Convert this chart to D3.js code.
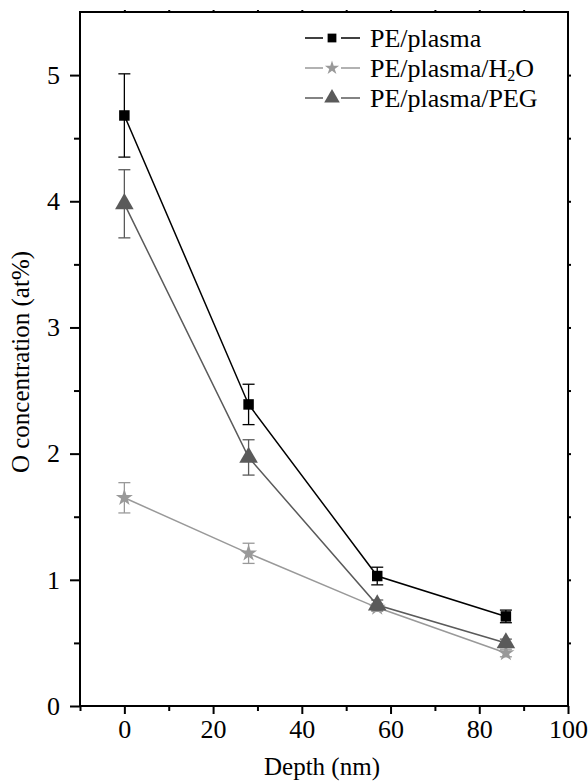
<!DOCTYPE html>
<html>
<head>
<meta charset="utf-8">
<script src="https://cdn.jsdelivr.net/npm/d3@7"></script>
<style>
  body { margin: 0; background: #fff; }
  svg text { font-family: "Liberation Serif", "Times New Roman", serif; }
</style>
</head>
<body>
<svg id="chart" width="588" height="782"></svg>
<script>
// data
var depth = [0, 28, 57, 86];
var seriesNames = ['PE/plasma', 'PE/plasma/H2O', 'PE/plasma/PEG'];
var plasmaVals = [4.68, 2.39, 1.03, 0.71];
var plasmaErr  = [0.33, 0.16, 0.07, 0.05];
var h2oVals    = [1.65, 1.21, 0.78, 0.42];
var h2oErr     = [0.12, 0.08, 0.03, 0.03];
var pegVals    = [3.98, 1.97, 0.80, 0.50];
var pegErr     = [0.27, 0.14, 0.04, 0.03];
var xTicks = [0, 20, 40, 60, 80, 100];
var yTicks = [0, 1, 2, 3, 4, 5];

var series = [
  {name: seriesNames[0], vals: plasmaVals, err: plasmaErr, col: '#000000', sym: d3.symbolSquare, size: 110},
  {name: seriesNames[1], vals: h2oVals, err: h2oErr, col: '#999999', sym: d3.symbolStar, size: 90},
  {name: seriesNames[2], vals: pegVals, err: pegErr, col: '#5a5a5a', sym: d3.symbolTriangle, size: 150}
];

var svg = d3.select('#chart');
var pL = 80, pR = 568, pT = 12, pB = 706;

var x = d3.scaleLinear().domain([-10, 100]).range([pL, pR]);
var y = d3.scaleLinear().domain([0, 5.5]).range([pB, pT]);

var g = svg.append('g');

function thick(s){
  s.attr('font-family', null);
  s.select('.domain').remove();
  s.selectAll('line').attr('stroke-width', 2);
}

// frame
g.append('rect').attr('x', pL).attr('y', pT).attr('width', pR - pL).attr('height', pB - pT)
  .attr('fill', 'none').attr('stroke', '#000').attr('stroke-width', 2);

// bottom axis
var xAx = g.append('g').attr('transform', 'translate(0,' + pB + ')')
  .call(d3.axisBottom(x).tickValues(xTicks).tickFormat(d3.format('d')).tickSize(8).tickSizeOuter(0).tickPadding(6))
  .call(thick);
xAx.selectAll('text').attr('font-size', 26).attr('fill', '#000');
g.append('g').attr('transform', 'translate(0,' + pB + ')')
  .call(d3.axisBottom(x).tickValues([-10, 10, 30, 50, 70, 90]).tickSize(5).tickFormat(''))
  .call(thick);

// left axis
var yAx = g.append('g').attr('transform', 'translate(' + pL + ',0)')
  .call(d3.axisLeft(y).tickValues(yTicks).tickFormat(d3.format('d')).tickSize(10).tickPadding(10))
  .call(thick);
yAx.selectAll('text').attr('font-size', 26).attr('fill', '#000');
g.append('g').attr('transform', 'translate(' + pL + ',0)')
  .call(d3.axisLeft(y).tickValues([0.5, 1.5, 2.5, 3.5, 4.5]).tickSize(6).tickFormat(''))
  .call(thick);

// top and right small ticks
g.append('g').attr('transform', 'translate(0,' + pT + ')')
  .call(d3.axisTop(x).tickValues([0, 10, 20, 30, 40, 50, 60, 70, 80, 90]).tickSize(2).tickFormat(''))
  .call(thick);
g.append('g').attr('transform', 'translate(' + pR + ',0)')
  .call(d3.axisRight(y).tickValues([0.5, 1, 1.5, 2, 2.5, 3, 3.5, 4, 4.5, 5]).tickSize(3).tickFormat(''))
  .call(thick);

// axis titles
svg.append('text').attr('x', 322).attr('y', 775).attr('text-anchor', 'middle')
  .attr('font-size', 25).text('Depth (nm)');
svg.append('text').attr('transform', 'translate(29,362) rotate(-90)')
  .attr('text-anchor', 'middle').attr('font-size', 25).text('O concentration (at%)');

var line = d3.line().x(function(d){ return x(d[0]); }).y(function(d){ return y(d[1]); });

// order: H2O under, PEG, plasma on top
[1, 2, 0].forEach(function(i){
  var s = series[i];
  var pts = depth.map(function(d, k){ return [d, s.vals[k], s.err[k]]; });
  var sg = g.append('g');
  sg.append('path').datum(pts).attr('d', line).attr('fill', 'none')
    .attr('stroke', s.col).attr('stroke-width', 1.5);
  pts.forEach(function(p){
    var cx = x(p[0]);
    sg.append('line').attr('x1', cx).attr('x2', cx).attr('y1', y(p[1] + p[2])).attr('y2', y(p[1] - p[2]))
      .attr('stroke', s.col).attr('stroke-width', 1.3);
    [p[1] + p[2], p[1] - p[2]].forEach(function(v){
      sg.append('line').attr('x1', cx - 6).attr('x2', cx + 6).attr('y1', y(v)).attr('y2', y(v))
        .attr('stroke', s.col).attr('stroke-width', 1.3);
    });
    sg.append('path').attr('d', d3.symbol().type(s.sym).size(s.size)())
      .attr('transform', 'translate(' + cx + ',' + y(p[1]) + ')')
      .attr('fill', s.col);
  });
});

// legend
var legY = [38, 68, 98];
series.forEach(function(s, i){
  var lg = svg.append('g').attr('transform', 'translate(0,' + legY[i] + ')');
  lg.append('line').attr('x1', 305).attr('x2', 360).attr('y1', 0).attr('y2', 0)
    .attr('stroke', s.col).attr('stroke-width', 1.5);
  lg.append('rect').attr('x', 323).attr('y', -5).attr('width', 18).attr('height', 10).attr('fill', '#fff');
  lg.append('path').attr('d', d3.symbol().type(s.sym).size(s.size * 0.7)())
    .attr('transform', 'translate(332,0)').attr('fill', s.col);
  var t = lg.append('text').attr('x', 370).attr('y', 9).attr('font-size', 26).attr('fill', '#000');
  if (s.name.indexOf('H2O') >= 0) {
    t.append('tspan').text('PE/plasma/H');
    t.append('tspan').attr('font-size', 16).attr('dy', 4).text('2');
    t.append('tspan').attr('dy', -4).text('O');
  } else {
    t.text(s.name);
  }
});
</script>
</body>
</html>
